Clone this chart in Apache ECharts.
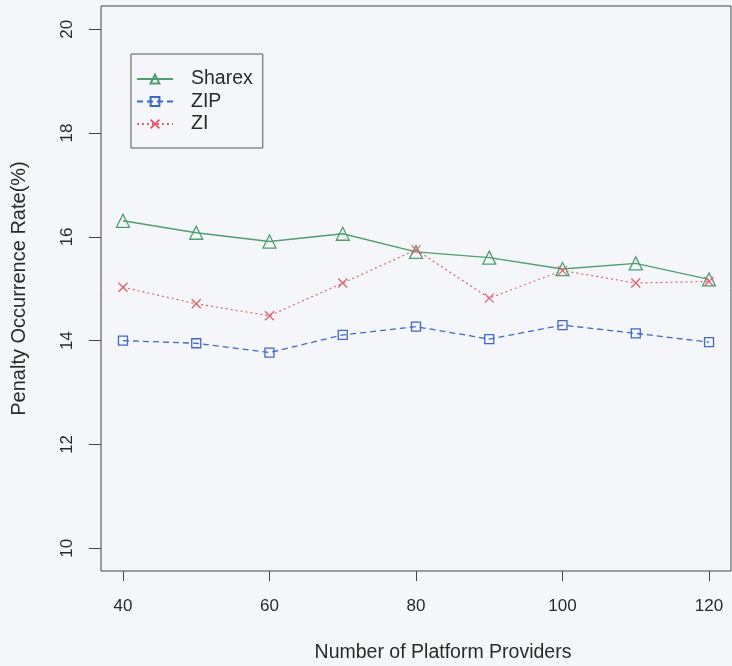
<!DOCTYPE html>
<html>
<head>
<meta charset="utf-8">
<script src="https://cdn.jsdelivr.net/npm/echarts@6/dist/echarts.min.js"></script>
<style>
html,body{margin:0;padding:0;background:#f4f6f9;}
#c{width:732px;height:666px;}
</style>
</head>
<body>
<div id="c"></div>
<script>
var providers = [40, 50, 60, 70, 80, 90, 100, 110, 120];
var sharex = [16.31, 16.08, 15.91, 16.06, 15.71, 15.60, 15.38, 15.49, 15.18];
var zip    = [14.00, 13.95, 13.77, 14.11, 14.27, 14.03, 14.30, 14.14, 13.97];
var zi     = [15.03, 14.71, 14.48, 15.11, 15.75, 14.82, 15.35, 15.11, 15.14];
var xTicks = [40, 60, 80, 100, 120];
var yTicks = [10, 12, 14, 16, 18, 20];

function pairs(vals){ return providers.map(function(x,i){ return [x, vals[i]]; }); }

var bg = '#f4f6f9';
var green = '#4f9e72', blue = '#3f68cc', red = '#e0606e';
var font = 'Liberation Sans, Arial, sans-serif';
var ink = '#2a2a2a';

var chart = echarts.init(document.getElementById('c'));
chart.setOption({
  backgroundColor: bg,
  animation: false,
  grid: {left: 101, right: 1, top: 6, bottom: 95, containLabel: false, outerBoundsMode: 'none',
         show: true, borderColor: '#444', borderWidth: 1, backgroundColor: 'transparent'},
  legend: {
    orient: 'vertical', left: 131, top: 54,
    borderColor: '#555', borderWidth: 1, borderRadius: 0,
    padding: [14, 10, 13, 5],
    itemWidth: 36, itemHeight: 11, itemGap: 0.5,
    textStyle: {fontFamily: font, fontSize: 19.5, color: ink, lineHeight: 22, padding: [0, 0, 0, 13]},
    data: ['Sharex', 'ZIP', 'ZI']
  },
  xAxis: {
    type: 'value', min: 37, max: 123,
    name: 'Number of Platform Providers', nameLocation: 'middle', nameGap: 72,
    nameTextStyle: {fontFamily: font, fontSize: 19.5, color: ink, padding: [0, 0, 0, 54]},
    axisLine: {show: false},
    splitLine: {show: false},
    axisTick: {show: true, length: 10, lineStyle: {color: '#444'}, customValues: xTicks},
    axisLabel: {fontFamily: font, fontSize: 17, color: ink, margin: 27, customValues: xTicks}
  },
  yAxis: {
    type: 'value', min: 9.56, max: 20.45,
    name: 'Penalty Occurrence Rate(%)', nameLocation: 'middle', nameGap: 72,
    nameTextStyle: {fontFamily: font, fontSize: 20, color: ink},
    axisLine: {show: false},
    splitLine: {show: false},
    axisTick: {show: true, length: 12, lineStyle: {color: '#444'}, customValues: yTicks},
    axisLabel: {fontFamily: font, fontSize: 17, color: ink, margin: 25, rotate: 90, customValues: yTicks}
  },
  series: [
    {
      name: 'Sharex', type: 'line', data: pairs(sharex),
      symbol: 'triangle', symbolSize: 13,
      lineStyle: {color: green, width: 1.4, type: 'solid'},
      itemStyle: {color: 'transparent', borderColor: green, borderWidth: 1.3}
    },
    {
      name: 'ZIP', type: 'line', data: pairs(zip),
      symbol: 'rect', symbolSize: 9,
      lineStyle: {color: blue, width: 1.3, type: [6, 4]},
      itemStyle: {color: 'transparent', borderColor: blue, borderWidth: 1.3}
    },
    {
      name: 'ZI', type: 'line', data: pairs(zi),
      symbol: 'path://M0,0L10,10M10,0L0,10', symbolSize: 9,
      lineStyle: {color: red, width: 1.2, type: [2, 3]},
      itemStyle: {color: 'transparent', borderColor: red, borderWidth: 1.3}
    }
  ]
});
</script>
</body>
</html>
